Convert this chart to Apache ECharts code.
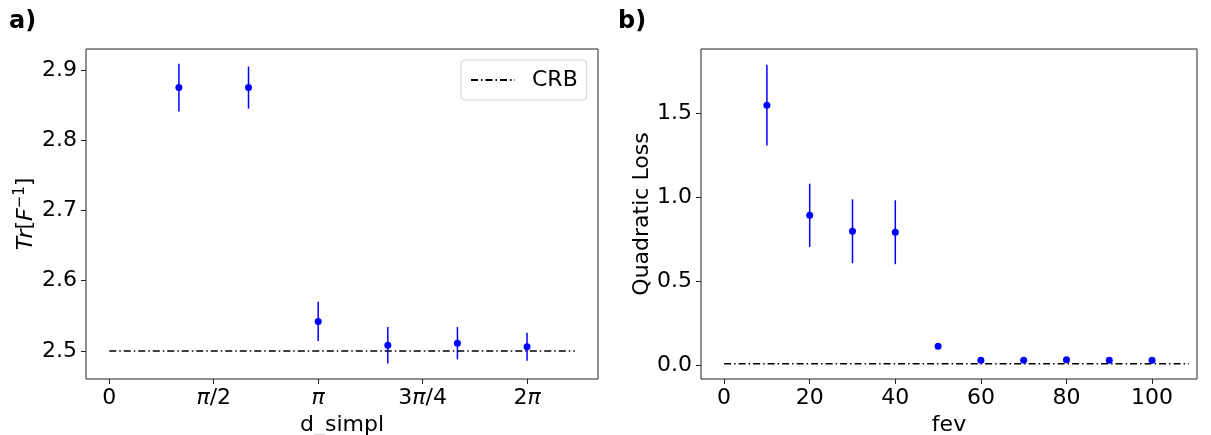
<!DOCTYPE html>
<html>
<head>
<meta charset="utf-8">
<script src="https://cdn.jsdelivr.net/npm/echarts@6/dist/echarts.min.js"></script>
<style>
html,body{margin:0;padding:0;background:#fff;}
#c{width:1211px;height:435px;}
</style>
</head>
<body>
<div id="c"></div>
<script>
// ---- Panel a) data ----
const dSimpl = [1.047, 2.094, 3.142, 4.189, 5.236, 6.283];
const trF = [2.875, 2.875, 2.542, 2.508, 2.511, 2.506];
const trErr = [0.034, 0.030, 0.028, 0.026, 0.023, 0.020];
const crbA_x = [0, 7.0];
const crbA_y = [2.5, 2.5];
const tickA_vals = [0, 1.5708, 3.1416, 4.7124, 6.2832];
const tickA_labels = ['0', '{i|π}/2', '{i|π}', '3{i|π}/4', '2{i|π}'];
const yTickA = [2.5, 2.6, 2.7, 2.8, 2.9];

// ---- Panel b) data ----
const fev = [10, 20, 30, 40, 50, 60, 70, 80, 90, 100];
const loss = [1.548, 0.893, 0.798, 0.792, 0.114, 0.031, 0.030, 0.033, 0.031, 0.031];
const lossErr = [0.240, 0.188, 0.190, 0.190, 0.010, 0.004, 0.004, 0.004, 0.004, 0.004];
const crbB_x = [0, 108.6];
const crbB_y = [0.01, 0.01];
const tickB_x = [0, 20, 40, 60, 80, 100];
const tickB_y = [0.0, 0.5, 1.0, 1.5];

const FONT = 'DejaVu Sans';
const FS = 22;
const BLUE = '#0000ff';
const AX = '#222';
const DASHDOT = [7, 3, 1.5, 3];

function errData(xs, ys, es) {
  return xs.map((x, i) => [x, ys[i] - es[i], ys[i] + es[i]]);
}
function renderErr(params, api) {
  const x = api.value(0);
  const p1 = api.coord([x, api.value(1)]);
  const p2 = api.coord([x, api.value(2)]);
  return {
    type: 'line',
    shape: { x1: p1[0], y1: p1[1], x2: p2[0], y2: p2[1] },
    style: { stroke: BLUE, lineWidth: 1.5 }
  };
}
function nearestLabel(v, vals, labels) {
  let bi = 0;
  for (let i = 0; i < vals.length; i++) if (Math.abs(vals[i] - v) < Math.abs(vals[bi] - v)) bi = i;
  return labels[bi];
}

const labelStyle = { fontFamily: FONT, fontSize: FS, color: '#000' };
const tickStyle = { show: true, length: 5, lineStyle: { color: AX, width: 1 } };

const chart = echarts.init(document.getElementById('c'), null, { renderer: 'canvas' });
chart.setOption({
  animation: false,
  backgroundColor: '#fff',
  textStyle: { fontFamily: FONT },
  grid: [
    { left: 86, top: 49, width: 512, height: 330, show: true, borderColor: AX, borderWidth: 1,
      backgroundColor: 'transparent', containLabel: false, outerBoundsMode: 'none' },
    { left: 701, top: 49, width: 496, height: 330, show: true, borderColor: AX, borderWidth: 1,
      backgroundColor: 'transparent', containLabel: false, outerBoundsMode: 'none' }
  ],
  xAxis: [
    {
      gridIndex: 0, type: 'value', min: -0.35, max: 7.35,
      name: 'd_simpl', nameLocation: 'middle', nameGap: 31,
      nameTextStyle: labelStyle,
      axisLine: { show: false, onZero: false },
      axisTick: { ...tickStyle, customValues: tickA_vals },
      axisLabel: {
        ...labelStyle, margin: 8, customValues: tickA_vals,
        formatter: v => nearestLabel(v, tickA_vals, tickA_labels),
        rich: { i: { fontFamily: FONT, fontSize: FS, fontStyle: 'italic', color: '#000' } }
      },
      splitLine: { show: false }
    },
    {
      gridIndex: 1, type: 'value', min: -5.4, max: 110.5,
      name: 'fev', nameLocation: 'middle', nameGap: 31,
      nameTextStyle: labelStyle,
      axisLine: { show: false, onZero: false },
      axisTick: { ...tickStyle, customValues: tickB_x },
      axisLabel: { ...labelStyle, margin: 8, customValues: tickB_x, formatter: v => String(Math.round(v)) },
      splitLine: { show: false }
    }
  ],
  yAxis: [
    {
      gridIndex: 0, type: 'value', min: 2.46, max: 2.93,
      name: '{it|Tr}[{it|F}{sup|−1}]', nameLocation: 'middle', nameGap: 49,
      nameTextStyle: {
        ...labelStyle,
        rich: {
          it: { fontFamily: FONT, fontSize: FS, fontStyle: 'italic', color: '#000', lineHeight: 24, verticalAlign: 'bottom' },
          sup: { fontFamily: FONT, fontSize: 15, color: '#000', lineHeight: 15, verticalAlign: 'top' }
        },
        lineHeight: 24, verticalAlign: 'bottom'
      },
      axisLine: { show: false, onZero: false },
      axisTick: { ...tickStyle, customValues: yTickA },
      axisLabel: { ...labelStyle, margin: 9, customValues: yTickA, formatter: v => v.toFixed(1) },
      splitLine: { show: false }
    },
    {
      gridIndex: 1, type: 'value', min: -0.081, max: 1.882,
      name: 'Quadratic Loss', nameLocation: 'middle', nameGap: 48,
      nameTextStyle: labelStyle,
      axisLine: { show: false, onZero: false },
      axisTick: { ...tickStyle, customValues: tickB_y },
      axisLabel: { ...labelStyle, margin: 9, customValues: tickB_y, formatter: v => v.toFixed(1) },
      splitLine: { show: false }
    }
  ],
  legend: {
    data: ['CRB'],
    left: 461, top: 60,
    padding: [9, 9, 9, 9],
    borderColor: '#d4d4d4', borderWidth: 1, borderRadius: 4,
    backgroundColor: 'rgba(255,255,255,0.8)',
    itemWidth: 44, itemHeight: 14,
    itemStyle: { opacity: 0 },
    textStyle: { fontFamily: FONT, fontSize: FS, color: '#000', padding: [0, 0, 0, 12] },
    selectedMode: false
  },
  graphic: [
    { type: 'text', left: 9, top: 10, style: { text: 'a)', font: 'bold 24px "DejaVu Sans"', fill: '#000' } },
    { type: 'text', left: 618, top: 10, style: { text: 'b)', font: 'bold 24px "DejaVu Sans"', fill: '#000' } }
  ],
  series: [
    {
      name: 'CRB', type: 'line', xAxisIndex: 0, yAxisIndex: 0,
      data: crbA_x.map((x, i) => [x, crbA_y[i]]),
      symbol: 'none', lineStyle: { color: '#000', width: 1.5, type: DASHDOT },
      itemStyle: { color: '#000' }, z: 2
    },
    {
      name: 'errA', type: 'custom', xAxisIndex: 0, yAxisIndex: 0,
      data: errData(dSimpl, trF, trErr), renderItem: renderErr, z: 3
    },
    {
      name: 'Tr', type: 'scatter', xAxisIndex: 0, yAxisIndex: 0,
      data: dSimpl.map((x, i) => [x, trF[i]]),
      symbolSize: 7, itemStyle: { color: BLUE, opacity: 1 }, z: 4
    },
    {
      name: 'CRB_b', type: 'line', xAxisIndex: 1, yAxisIndex: 1,
      data: crbB_x.map((x, i) => [x, crbB_y[i]]),
      symbol: 'none', lineStyle: { color: '#000', width: 1.5, type: DASHDOT }, z: 2
    },
    {
      name: 'errB', type: 'custom', xAxisIndex: 1, yAxisIndex: 1,
      data: errData(fev, loss, lossErr), renderItem: renderErr, z: 3
    },
    {
      name: 'Loss', type: 'scatter', xAxisIndex: 1, yAxisIndex: 1,
      data: fev.map((x, i) => [x, loss[i]]),
      symbolSize: 7, itemStyle: { color: BLUE, opacity: 1 }, z: 4
    }
  ]
});
</script>
</body>
</html>
